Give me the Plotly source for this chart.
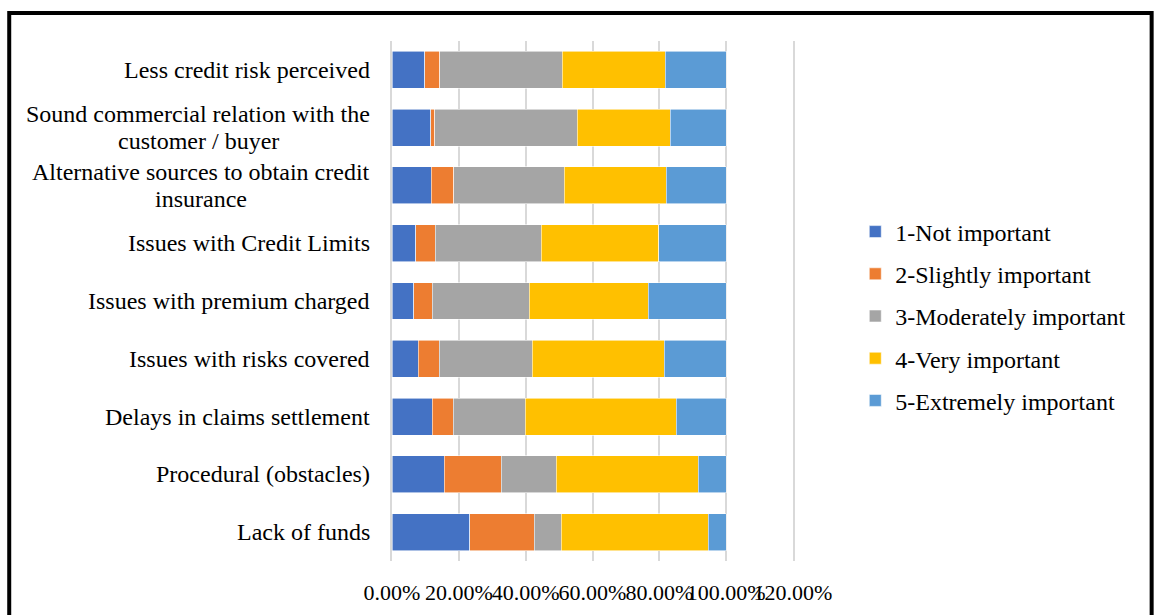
import plotly.graph_objects as go

# Survey factors, listed top to bottom as they appear on the chart
categories = [
    "Less credit risk perceived",
    "Sound commercial relation with the\ncustomer / buyer",
    "Alternative sources to obtain credit\ninsurance",
    "Issues with Credit Limits",
    "Issues with premium charged",
    "Issues with risks covered",
    "Delays in claims settlement",
    "Procedural (obstacles)",
    "Lack of funds",
]

# Share of respondents per importance rating (fractions of 1)
not_important = [0.098, 0.116, 0.117, 0.071, 0.065, 0.078, 0.120, 0.157, 0.232]
slightly_important = [0.045, 0.012, 0.068, 0.058, 0.055, 0.063, 0.063, 0.170, 0.194]
moderately_important = [0.367, 0.426, 0.330, 0.318, 0.290, 0.279, 0.216, 0.164, 0.080]
very_important = [0.308, 0.278, 0.305, 0.351, 0.357, 0.394, 0.451, 0.426, 0.440]
extremely_important = [0.182, 0.168, 0.180, 0.202, 0.233, 0.186, 0.150, 0.083, 0.054]

series_names = [
    "1-Not important",
    "2-Slightly important",
    "3-Moderately important",
    "4-Very important",
    "5-Extremely important",
]
series_values = [not_important, slightly_important, moderately_important,
                 very_important, extremely_important]
series_colors = ["#4472C4", "#ED7D31", "#A5A5A5", "#FFC000", "#5B9BD5"]

tick_values = [0.0, 0.2, 0.4, 0.6, 0.8, 1.0, 1.2]
tick_labels = ["0.00%", "20.00%", "40.00%", "60.00%", "80.00%", "100.00%", "120.00%"]

FONT = "Liberation Serif, Times New Roman, serif"
LABEL_SIZE = 24

# Page geometry (pixels)
W, H = 1156, 615
PLOT_L, PLOT_R, PLOT_T, PLOT_B = 392.3, 792.8, 41, 561
pw, ph = PLOT_R - PLOT_L, PLOT_B - PLOT_T
GRID = "#D9D9D9"


def px_to_paper_x(px):
    return (px - PLOT_L) / pw


def px_to_paper_y(py):
    return (PLOT_B - py) / ph


# Advance widths (1/1000 em) of the serif face, used to centre wrapped labels
ADV = {
    " ": 250, "/": 278, "(": 333, ")": 333,
    "a": 444, "b": 500, "c": 444, "d": 500, "e": 444, "f": 333, "g": 500,
    "h": 500, "i": 278, "j": 278, "k": 500, "l": 278, "m": 778, "n": 500,
    "o": 500, "p": 500, "q": 500, "r": 333, "s": 389, "t": 278, "u": 500,
    "v": 500, "w": 722, "x": 500, "y": 500, "z": 444,
    "A": 722, "C": 667, "D": 722, "I": 333, "L": 611, "P": 556, "S": 556,
}


def text_width(s, size):
    return sum(ADV.get(ch, 500) for ch in s) * size / 1000.0


keys = list(range(len(categories)))

fig = go.Figure()
for i, (name, vals, col) in enumerate(zip(series_names, series_values, series_colors)):
    fig.add_trace(go.Bar(
        y=keys, x=vals, name=name, orientation="h",
        legendgroup=f"g{i}",
        marker=dict(color=col, line=dict(color="rgba(255,255,255,0.8)", width=0.7)),
    ))

# Category labels: wrapped lines centred within a block that ends 22px left of the axis
LABEL_GAP = 22
LINE_STEP = 27.3
annotations = []
for k, label in zip(keys, categories):
    lines = label.split("\n")
    n = len(lines)
    block_w = max(text_width(s, LABEL_SIZE) for s in lines)
    centre_shift = -(LABEL_GAP + block_w / 2.0)
    for j, line in enumerate(lines):
        annotations.append(dict(
            x=0, xref="paper", y=k, yref="y",
            text=line, showarrow=False,
            xanchor="center", yanchor="middle",
            xshift=centre_shift, yshift=((n - 1) / 2.0 - j) * LINE_STEP,
            font=dict(family=FONT, size=LABEL_SIZE, color="#000000"),
        ))

fig.update_layout(
    width=W, height=H,
    margin=dict(l=PLOT_L, r=W - PLOT_R, t=PLOT_T, b=H - PLOT_B, pad=0, autoexpand=False),
    paper_bgcolor="#FFFFFF", plot_bgcolor="#FFFFFF",
    barmode="stack", bargap=0.36,
    font=dict(family=FONT, size=LABEL_SIZE, color="#000000"),
    xaxis=dict(
        range=[0, 1.2], tickvals=tick_values, ticktext=tick_labels, tickangle=0,
        showgrid=True, gridcolor=GRID, gridwidth=1.5,
        zeroline=False, showline=False, automargin=False,
        ticks="outside", ticklen=12, tickcolor="rgba(0,0,0,0)",
        tickfont=dict(family=FONT, size=22, color="#000000"),
        fixedrange=True,
    ),
    yaxis=dict(
        range=[len(categories) - 0.5, -0.5],
        showticklabels=False, showgrid=False, zeroline=False,
        showline=True, mirror=True, linecolor=GRID, linewidth=1.5,
        automargin=False, fixedrange=True,
    ),
    legend=dict(
        x=px_to_paper_x(855), xanchor="left",
        y=px_to_paper_y(316), yanchor="middle",
        font=dict(family=FONT, size=LABEL_SIZE, color="#000000"),
        tracegroupgap=8, traceorder="grouped",
        bgcolor="rgba(0,0,0,0)",
    ),
    showlegend=True,
    annotations=annotations,
    shapes=[dict(
        type="rect", xref="paper", yref="paper",
        x0=px_to_paper_x(10), x1=px_to_paper_x(1151),
        y0=px_to_paper_y(700), y1=px_to_paper_y(13),
        line=dict(color="#000000", width=4), fillcolor="rgba(0,0,0,0)",
    )],
)

fig.write_html("out.html")
